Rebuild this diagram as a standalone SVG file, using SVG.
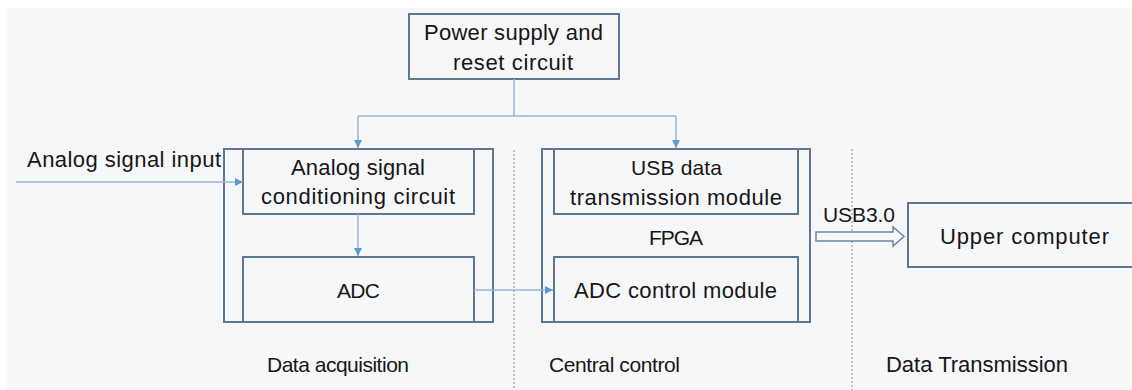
<svg xmlns="http://www.w3.org/2000/svg" width="1132" height="390" viewBox="0 0 1132 390">
<defs>
<style>
.box{fill:none;stroke:#5c7893;stroke-width:2}
.t{font-family:"Liberation Sans",Arial,sans-serif;font-size:22px;fill:#161616;text-anchor:middle}
.s{font-size:21px}
.c{fill:none;stroke:#97b6d4;stroke-width:1.5}
.dot{fill:none;stroke:#8a8a8a;stroke-width:1;stroke-dasharray:2,2}
</style>
<marker id="ah" viewBox="0 0 8 8" refX="8" refY="4" markerWidth="8" markerHeight="8" markerUnits="userSpaceOnUse" orient="auto">
<path d="M0,0 L8,4 L0,8 Z" fill="#5b9bd5"/>
</marker>
</defs>
<rect x="0" y="0" width="1132" height="390" fill="#ffffff"/>
<rect x="6" y="8" width="1126" height="382" fill="#f6f7f9"/>

<g id="dividers">
<line class="dot" x1="514" y1="150" x2="514" y2="390"/>
<line class="dot" x1="852" y1="149" x2="852" y2="390"/>
</g>

<g id="power">
<rect class="box" x="409" y="14" width="210" height="65"/>
<text class="t" x="513.5" y="40" textLength="179" lengthAdjust="spacing">Power supply and</text>
<text class="t" x="513" y="70" textLength="120" lengthAdjust="spacing">reset circuit</text>
</g>

<g id="data-acquisition">
<rect class="box" x="224" y="149" width="269" height="173"/>
</g>
<g id="conditioning">
<rect class="box" x="243" y="149" width="231" height="65"/>
<text class="t" x="358" y="175" textLength="134" lengthAdjust="spacing">Analog signal</text>
<text class="t" x="358" y="204" textLength="194" lengthAdjust="spacing">conditioning circuit</text>
</g>
<g id="adc">
<rect class="box" x="243" y="257" width="231" height="65"/>
<text class="t s" x="358.5" y="298" textLength="43" lengthAdjust="spacing">ADC</text>
</g>

<g id="fpga">
<rect class="box" x="542" y="149" width="268" height="173"/>
<text class="t s" x="676" y="244.5" textLength="54" lengthAdjust="spacing">FPGA</text>
</g>
<g id="usb-module">
<rect class="box" x="554" y="149" width="244" height="65"/>
<text class="t s" x="676.5" y="175" textLength="91" lengthAdjust="spacing">USB data</text>
<text class="t" x="676" y="205" textLength="212" lengthAdjust="spacing">transmission module</text>
</g>
<g id="adc-control">
<rect class="box" x="554" y="257" width="244" height="65"/>
<text class="t" x="675.5" y="298" textLength="203" lengthAdjust="spacing">ADC control module</text>
</g>

<g id="upper-computer">
<rect class="box" x="908" y="203" width="240" height="64"/>
<text class="t" x="1024.5" y="244" textLength="169" lengthAdjust="spacing">Upper computer</text>
</g>

<g id="connectors">
<polyline class="c" points="514,79 514,116"/>
<polyline class="c" points="358,116 676,116"/>
<polyline class="c" points="358,116 358,148" marker-end="url(#ah)"/>
<polyline class="c" points="676,116 676,148" marker-end="url(#ah)"/>
<polyline class="c" points="16,182 243,182" marker-end="url(#ah)"/>
<polyline class="c" points="358,214 358,256" marker-end="url(#ah)"/>
<polyline class="c" points="474,290 553,290" marker-end="url(#ah)"/>
<path d="M816,232 L893,232 L893,227 L904,236.5 L893,246 L893,241 L816,241 Z" fill="#f6f7f9" stroke="#6a88a8" stroke-width="1.5"/>
</g>

<g id="labels">
<text class="t" x="124" y="167" textLength="194" lengthAdjust="spacing">Analog signal input</text>
<text class="t s" x="859" y="222" textLength="72" lengthAdjust="spacing">USB3.0</text>
<text class="t s" x="338" y="372" textLength="142" lengthAdjust="spacing">Data acquisition</text>
<text class="t s" x="614.5" y="372" textLength="131" lengthAdjust="spacing">Central control</text>
<text class="t" x="977" y="372" textLength="182" lengthAdjust="spacing">Data Transmission</text>
</g>
</svg>
